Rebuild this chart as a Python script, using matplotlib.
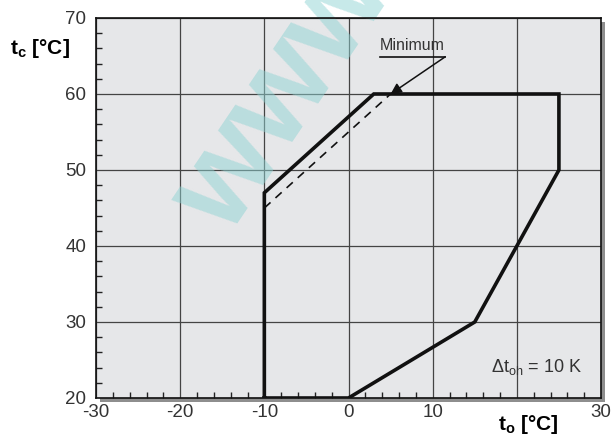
import numpy as np
import matplotlib.pyplot as plt
from matplotlib.patches import Rectangle

# operating envelope (evaporating t_o vs condensing t_c)
env_to = [-10, 0, 15, 25, 25, 3, -10, -10]
env_tc = [20, 20, 30, 50, 60, 60, 47, 20]

# minimum line
min_to = [-10, 5]
min_tc = [45, 60]

xticks = [-30, -20, -10, 0, 10, 20, 30]
xtick_labels = ['-30', '-20', '-10', '0', '10', '', '30']
yticks = [20, 30, 40, 50, 60, 70]
ytick_labels = ['20', '30', '40', '50', '60', '70']

plt.rcParams['font.family'] = ['Liberation Sans', 'DejaVu Sans']

W, H = 612, 437
fig = plt.figure(figsize=(W / 100, H / 100), dpi=100)
fig.patch.set_facecolor('white')

left, right, top, bottom = 96, 601, 18, 398
pos = [left / W, (H - bottom) / H, (right - left) / W, (bottom - top) / H]

# drop shadow behind the plot area
off = 4
fig.patches.append(Rectangle((pos[0] + off / W, pos[1] - off / H), pos[2], pos[3],
                             transform=fig.transFigure, facecolor='#8e8e8e',
                             edgecolor='none', zorder=-5))

ax = fig.add_axes(pos)
ax.set_zorder(1)
ax.set_facecolor('#e6e7e9')
ax.set_xlim(-30, 30)
ax.set_ylim(20, 70)

ax.set_xticks(xticks)
ax.set_xticklabels(xtick_labels)
ax.set_yticks(yticks)
ax.set_yticklabels(ytick_labels)
ax.set_xticks(np.arange(-30, 31, 2), minor=True)
ax.set_yticks(np.arange(20, 71, 2), minor=True)
ax.tick_params(which='major', length=0, pad=7, labelsize=13.5, labelcolor='#333333')
ax.tick_params(which='minor', direction='in', length=4, width=1, color='#222222')
ax.tick_params(axis='x', pad=4)
ax.grid(True, which='major', color='#444444', lw=0.9)
ax.set_axisbelow(True)
for s in ax.spines.values():
    s.set_color('#111111')
    s.set_linewidth(1.2)

# watermark
ax.text(0.465, 0.78, 'www', transform=fig.transFigure, fontsize=92, fontweight='bold',
        color='#8fd3d3', alpha=0.5, rotation=56, ha='center', va='center',
        zorder=2, clip_on=False)

ax.plot(env_to, env_tc, color='#111111', lw=2.6, solid_joinstyle='miter', zorder=3)
ax.plot(min_to, min_tc, color='#111111', lw=1.2, ls=(0, (5, 4)), zorder=3)

# Minimum label with underline and arrow
ax.text(7.6, 65.4, 'Minimum', ha='center', va='bottom', fontsize=11.5, color='#333333')
ax.plot([3.7, 11.5], [64.9, 64.9], color='#111111', lw=1.2, clip_on=False)
ax.annotate('', xy=(5, 60), xytext=(11.5, 64.9),
            arrowprops=dict(arrowstyle='-|>', color='#111111', lw=1.1,
                            mutation_scale=16, shrinkA=0, shrinkB=0))

ax.text(22.3, 24.1, 'Δt$_{\\mathregular{oh}}$ = 10 K', ha='center', va='center',
        fontsize=13, color='#333333')

fig.text(10 / W, 1 - 48 / H, r't$_\mathregular{c}$ [°C]', fontsize=15, fontweight='bold',
         ha='left', va='center')
fig.text(528 / W, 1 - 424 / H, r't$_\mathregular{o}$ [°C]', fontsize=15, fontweight='bold',
         ha='center', va='center')

fig.savefig('out.png', dpi=100)
